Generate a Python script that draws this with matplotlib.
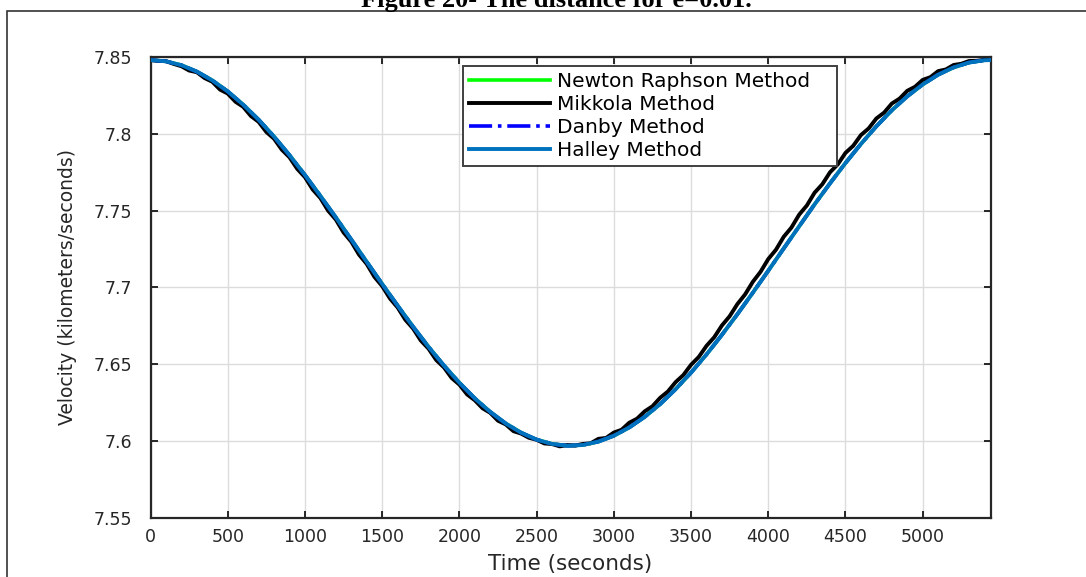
import matplotlib.pyplot as plt
from matplotlib.patches import Rectangle

# time samples (s)
t_orbit = list(range(0, 5401, 100)) + [5440]
t_mikkola = list(range(0, 5401, 50)) + [5440]

# velocity (km/s) from each solver
v_halley = [7.8480, 7.8472, 7.8447, 7.8405, 7.8348, 7.8276, 7.8190, 7.8092, 7.7982, 7.7861,
            7.7732, 7.7596, 7.7456, 7.7312, 7.7167, 7.7023, 7.6882, 7.6745, 7.6614, 7.6492,
            7.6380, 7.6278, 7.6190, 7.6115, 7.6055, 7.6010, 7.5982, 7.5970, 7.5975, 7.5997,
            7.6035, 7.6089, 7.6158, 7.6241, 7.6338, 7.6446, 7.6564, 7.6692, 7.6826, 7.6966,
            7.7109, 7.7254, 7.7398, 7.7541, 7.7678, 7.7810, 7.7934, 7.8049, 7.8153, 7.8244,
            7.8321, 7.8385, 7.8432, 7.8464, 7.8479, 7.8480]
v_newton = list(v_halley)
v_danby = list(v_halley)

v_mikkola = [7.8480, 7.8475, 7.8473, 7.8455, 7.8440, 7.8412, 7.8401, 7.8363, 7.8339, 7.8288,
             7.8262, 7.8209, 7.8176, 7.8116, 7.8078, 7.8012, 7.7968, 7.7897, 7.7847, 7.7772,
             7.7718, 7.7638, 7.7582, 7.7500, 7.7442, 7.7358, 7.7298, 7.7214, 7.7153, 7.7069,
             7.7009, 7.6929, 7.6870, 7.6790, 7.6733, 7.6655, 7.6602, 7.6528, 7.6480, 7.6411,
             7.6368, 7.6304, 7.6266, 7.6214, 7.6184, 7.6133, 7.6109, 7.6065, 7.6049, 7.6022,
             7.6009, 7.5985, 7.5981, 7.5966, 7.5975, 7.5971, 7.5982, 7.5986, 7.6015, 7.6021,
             7.6056, 7.6074, 7.6120, 7.6146, 7.6194, 7.6227, 7.6282, 7.6323, 7.6384, 7.6430,
             7.6497, 7.6548, 7.6620, 7.6676, 7.6753, 7.6813, 7.6892, 7.6955, 7.7037, 7.7102,
             7.7185, 7.7246, 7.7330, 7.7390, 7.7474, 7.7534, 7.7617, 7.7672, 7.7750, 7.7801,
             7.7876, 7.7922, 7.7992, 7.8035, 7.8100, 7.8138, 7.8197, 7.8229, 7.8280, 7.8306,
             7.8351, 7.8369, 7.8408, 7.8419, 7.8448, 7.8456, 7.8474, 7.8475, 7.8482, 7.8480]

x_ticks = [0, 500, 1000, 1500, 2000, 2500, 3000, 3500, 4000, 4500, 5000]
y_ticks = [7.55, 7.6, 7.65, 7.7, 7.75, 7.8, 7.85]
y_tick_labels = ['7.55', '7.6', '7.65', '7.7', '7.75', '7.8', '7.85']

axis_col = '#262626'

fig = plt.figure(figsize=(10.86, 5.77), dpi=100)
ax = fig.add_axes([0.1386, 0.1023, 0.7736, 0.7989])

ax.plot(t_orbit, v_newton, color='#00ff00', lw=2.6, label='Newton Raphson Method', zorder=3)
ax.plot(t_mikkola, v_mikkola, color='black', lw=2.8, label='Mikkola Method', zorder=4)
ax.plot(t_orbit, v_danby, color='#0000ff', lw=2.6, ls='-.', label='Danby Method', zorder=5)
ax.plot(t_orbit, v_halley, color='#0072bd', lw=2.8, label='Halley Method', zorder=6)

ax.set_xlim(0, 5440)
ax.set_ylim(7.55, 7.85)
ax.set_xticks(x_ticks)
ax.set_yticks(y_ticks)
ax.set_yticklabels(y_tick_labels)
ax.grid(True, color='#dcdcdc', lw=1.0)
ax.set_axisbelow(True)

for s in ax.spines.values():
    s.set_color(axis_col)
    s.set_linewidth(1.6)
ax.tick_params(axis='both', direction='in', length=5, width=1.4, color=axis_col,
               labelcolor=axis_col, labelsize=12.5, top=True, right=True)
ax.tick_params(axis='x', pad=7)
ax.tick_params(axis='y', pad=13)

ax.set_xlabel('Time (seconds)', fontsize=15.5, color=axis_col, labelpad=6)
ax.set_ylabel('Velocity (kilometers/seconds)', fontsize=13.5, color=axis_col, labelpad=12)

leg = ax.legend(loc='upper left', bbox_to_anchor=(463 / 1086, 1 - 66 / 577, (837 - 463) / 1086, 0.0),
                bbox_transform=fig.transFigure, mode='expand', fontsize=14.5,
                handlelength=4.0, handletextpad=0.35, labelspacing=0.2, borderpad=0.3,
                borderaxespad=0, fancybox=False, framealpha=1)
leg.get_frame().set_edgecolor('#404040')
leg.get_frame().set_linewidth(1.4)

# page frame and caption above the figure
fig.add_artist(Rectangle((7 / 1086, -0.2), 1.2, 1.2 - 11 / 577, transform=fig.transFigure,
                         fill=False, edgecolor='#333333', lw=1.2))
fig.text(556 / 1086, 1 - 7 / 577, 'Figure 20- The distance for e=0.01.', ha='center', va='baseline',
         fontsize=19, fontweight='bold', family='Liberation Serif', color='black')

fig.savefig('out.png', dpi=100)
